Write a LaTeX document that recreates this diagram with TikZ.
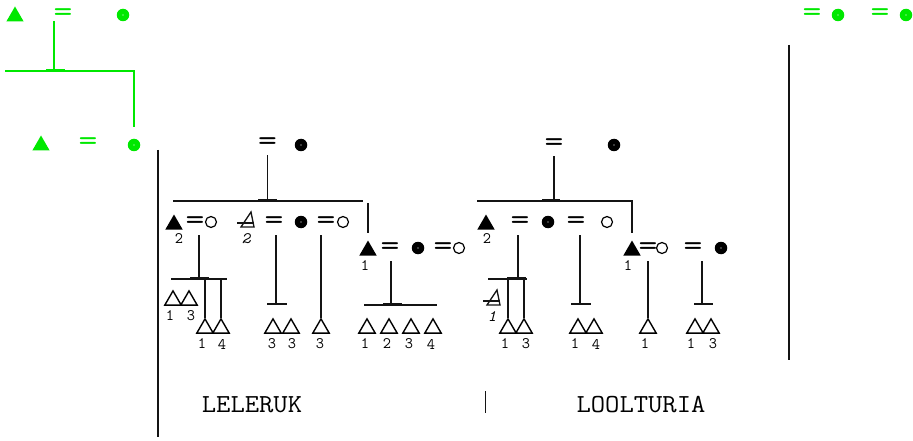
\documentclass[tikz,border=0pt]{standalone}
\usepackage{fontspec}
\usetikzlibrary{shapes.geometric}
\definecolor{gr}{RGB}{0,232,0}
\definecolor{ink}{RGB}{20,20,20}
\newcommand\eqsign{\scalebox{1.18}[1]{=}}
\tikzset{
  tri/.style={regular polygon, regular polygon sides=3, fill, inner sep=0pt, minimum size=20pt, yshift=-2.5pt},
  dot/.style={circle, fill, inner sep=0pt, minimum size=12.5pt, path picture={\fill[white] (path picture bounding box.center) circle (0.6pt);}},
  ring/.style={circle, draw, line width=1.2pt, inner sep=0pt, minimum size=11pt},
  del/.style={regular polygon, regular polygon sides=3, draw, line width=1.4pt, inner sep=0pt, minimum size=19pt, yshift=-2.4pt},
  eq/.style={inner sep=0pt, yshift=-1.5pt, font=\ttfamily\fontsize{31}{31}\selectfont},
  num/.style={inner sep=0pt, font=\ttfamily\fontsize{16}{16}\selectfont},
  inum/.style={inner sep=0pt, font=\ttfamily\itshape\fontsize{16}{16}\selectfont},
  lab/.style={inner sep=0pt, font=\ttfamily\fontsize{26}{26}\selectfont},
  ln/.style={line width=1.2pt, ink},
  bar/.style={line width=2.3pt, ink},
  fr/.style={line width=1.6pt, ink},
  xdel/.pic={\draw[line width=1.3pt, ink] (4,-8) -- (-6,7) -- (7,7) -- cycle; \draw[line width=1.3pt, ink] (-10,3) -- (7,3);}
}
\begin{document}
\begin{tikzpicture}[x=1pt,y=-1pt]
\useasboundingbox (0,0) rectangle (913,441);
% ---------- green part ----------
\node[tri,gr] (g1) at (15,14) {};
\node[eq,gr] (ge1) at (63,14) {\eqsign};
\node[dot,gr] (gd1) at (123,15) {};
\coordinate (gt) at (54,21);
\coordinate (gb) at (54,71);
\coordinate (gl) at (5,71);
\coordinate (gc) at (134,71);
\coordinate (gd) at (134,127);
\coordinate (gk1) at (46,70);
\coordinate (gk2) at (65,70);
\draw[line width=1.2pt, gr] (gt) -- (gb);
\draw[line width=1.2pt, gr] (gl) -- (gc) -- (gd);
\draw[line width=2.2pt, gr] (gk1) -- (gk2);
\node[tri,gr] (g2) at (41,143) {};
\node[eq,gr] (ge2) at (88,143) {\eqsign};
\node[dot,gr] (gd2) at (134,145) {};
\node[eq,gr] (ge3) at (812,14) {\eqsign};
\node[dot,gr] (gd3) at (838,15) {};
\node[eq,gr] (ge4) at (880,14) {\eqsign};
\node[dot,gr] (gd4) at (906,15) {};
% ---------- frame lines ----------
\coordinate (fl1) at (158,150); \coordinate (fl2) at (158,437);
\coordinate (fr1) at (789,45);  \coordinate (fr2) at (789,360);
\coordinate (sp1) at (485,391); \coordinate (sp2) at (485,413);
\draw[fr] (fl1) -- (fl2);
\draw[fr] (fr1) -- (fr2);
\draw[line width=1pt, ink] (sp1) -- (sp2);
% ---------- LELERUK ----------
\node[eq] (eqA) at (267.5,143) {\eqsign};
\node[dot] (fA) at (301,145) {};
\coordinate (bA) at (267.5,201);
\coordinate (sA1) at (173,201); \coordinate (sA2) at (363,201);
\coordinate (kA1) at (258,200); \coordinate (kA2) at (277,200);
\coordinate (rA1) at (368,203); \coordinate (rA2) at (368,233);
\draw[ln] (eqA.south) ++(0,4) -- (bA);
\draw[ln] (sA1) -- (sA2);
\draw[bar] (kA1) -- (kA2);
\draw[ln] (rA1) -- (rA2);
% row 2
\node[tri] (mA) at (174,222) {};
\node[num] (nA) at (179,239) {2};
\node[eq] (eqB) at (195,222) {\eqsign};
\node[ring] (oA) at (211,222) {};
\coordinate (xA) at (247,220); \pic at (xA) {xdel};
\node[inum] (nxA) at (246,239) {2};
\node[eq] (eqC) at (274,222) {\eqsign};
\node[dot] (fB) at (301,222) {};
\node[eq] (eqD) at (326,222) {\eqsign};
\node[ring] (oB) at (343,222) {};
% children of eqB
\coordinate (bB) at (199,279);
\coordinate (sB1) at (171,279); \coordinate (sB2) at (227,279);
\coordinate (kB1) at (190,278); \coordinate (kB2) at (209,278);
\coordinate (vB1) at (205,279); \coordinate (vB2) at (221,279);
\draw[ln] (eqB.south -| bB) ++(0,5) -- (bB);
\draw[ln] (sB1) -- (sB2);
\draw[bar] (kB1) -- (kB2);
\node[del] (d1) at (173,298) {};
\node[del] (d2) at (189,298) {};
\node[num] (n1) at (170,316) {1};
\node[num] (n2) at (191,316) {3};
\node[del] (d3) at (205,326) {};
\node[del] (d4) at (221,326) {};
\draw[ln] (vB1) -- (d3.north -| vB1);
\draw[ln] (vB2) -- (d4.north -| vB2);
\node[num] (n3) at (202,344) {1};
\node[num] (n4) at (222,344) {4};
% children of eqC
\coordinate (bC) at (276,305);
\coordinate (kC1) at (267,304); \coordinate (kC2) at (287,304);
\draw[ln] (eqC.south -| bC) ++(0,5) -- (bC);
\draw[bar] (kC1) -- (kC2);
\node[del] (d5) at (273,326) {};
\node[del] (d6) at (291,326) {};
\node[num] (n5) at (272,344) {3};
\node[num] (n6) at (292,344) {3};
% child of eqD
\node[del] (d7) at (321,326) {};
\node[num] (n7) at (320,344) {3};
\draw[ln] (eqD.south -| d7) ++(0,5) -- (d7.north);
% row 2b
\node[tri] (mC) at (368,248) {};
\node[num] (nC) at (365,266) {1};
\node[eq] (eqE) at (390,248) {\eqsign};
\node[dot] (fC) at (418,248) {};
\node[eq] (eqF) at (443,248) {\eqsign};
\node[ring] (oC) at (459,248) {};
\coordinate (bE) at (391,305);
\coordinate (sE1) at (364,305); \coordinate (sE2) at (437,305);
\coordinate (kE1) at (383,304); \coordinate (kE2) at (402,304);
\draw[ln] (eqE.south -| bE) ++(0,5) -- (bE);
\draw[ln] (sE1) -- (sE2);
\draw[bar] (kE1) -- (kE2);
\node[del] (d8) at (367,326) {};
\node[del] (d9) at (389,326) {};
\node[del] (d10) at (411,326) {};
\node[del] (d11) at (433,326) {};
\node[num] (n8) at (365,344) {1};
\node[num] (n9) at (387,344) {2};
\node[num] (n10) at (409,344) {3};
\node[num] (n11) at (431,344) {4};
% ---------- LOOLTURIA ----------
\node[eq] (eqG) at (554,144) {\eqsign};
\node[dot] (fD) at (614,145) {};
\coordinate (bG) at (554,201);
\coordinate (sG1) at (477,201); \coordinate (sG2) at (632,201);
\coordinate (kG1) at (542,200); \coordinate (kG2) at (560,200);
\coordinate (rG2) at (632,233);
\draw[ln] (eqG.south) ++(0,4) -- (bG);
\draw[ln] (sG1) -- (sG2) -- (rG2);
\draw[bar] (kG1) -- (kG2);
% row 2
\node[tri] (mD) at (486,222) {};
\node[num] (nD) at (487,239) {2};
\node[eq] (eqH) at (520,222) {\eqsign};
\node[dot] (fE) at (548,222) {};
\node[eq] (eqI) at (576,222) {\eqsign};
\node[ring] (oD) at (607,222) {};
% children of eqH
\coordinate (bH) at (518,279);
\coordinate (sH1) at (488,279); \coordinate (sH2) at (527,279);
\coordinate (kH1) at (507,278); \coordinate (kH2) at (526,278);
\coordinate (vH1) at (508,279); \coordinate (vH2) at (524,279);
\draw[ln] (eqH.south -| bH) ++(0,5) -- (bH);
\draw[ln] (sH1) -- (sH2);
\draw[bar] (kH1) -- (kH2);
\coordinate (xB) at (493,298); \pic at (xB) {xdel};
\node[inum] (nxB) at (492,317) {1};
\node[del] (d12) at (508,326) {};
\node[del] (d13) at (524,326) {};
\draw[ln] (vH1) -- (d12.north -| vH1);
\draw[ln] (vH2) -- (d13.north -| vH2);
\node[num] (n12) at (505,344) {1};
\node[num] (n13) at (526,344) {3};
% children of eqI
\coordinate (bI) at (580,305);
\coordinate (kI1) at (571,304); \coordinate (kI2) at (591,304);
\draw[ln] (eqI.south -| bI) ++(0,5) -- (bI);
\draw[bar] (kI1) -- (kI2);
\node[del] (d14) at (578,326) {};
\node[del] (d15) at (594,326) {};
\node[num] (n14) at (575,344) {1};
\node[num] (n15) at (596,344) {4};
% row 2b
\node[tri] (mE) at (632,248) {};
\node[num] (nE) at (628,266) {1};
\node[eq] (eqJ) at (648,248) {\eqsign};
\node[ring] (oE) at (662,248) {};
\node[eq] (eqK) at (693,248) {\eqsign};
\node[dot] (fF) at (721,248) {};
\node[del] (d16) at (648,326) {};
\node[num] (n16) at (645,344) {1};
\draw[ln] (eqJ.south -| d16) ++(0,5) -- (d16.north);
\coordinate (bK) at (702,305);
\coordinate (kK1) at (694,304); \coordinate (kK2) at (713,304);
\draw[ln] (eqK.south -| bK) ++(0,5) -- (bK);
\draw[bar] (kK1) -- (kK2);
\node[del] (d17) at (695,326) {};
\node[del] (d18) at (711,326) {};
\node[num] (n17) at (691,344) {1};
\node[num] (n18) at (713,344) {3};
% ---------- labels ----------
\node[lab] (L1) at (252,405) {\scalebox{1.07}[1]{LELERUK}};
\node[lab] (L2) at (641,405) {\scalebox{1.07}[1]{LOOLTURIA}};
\end{tikzpicture}
\end{document}
